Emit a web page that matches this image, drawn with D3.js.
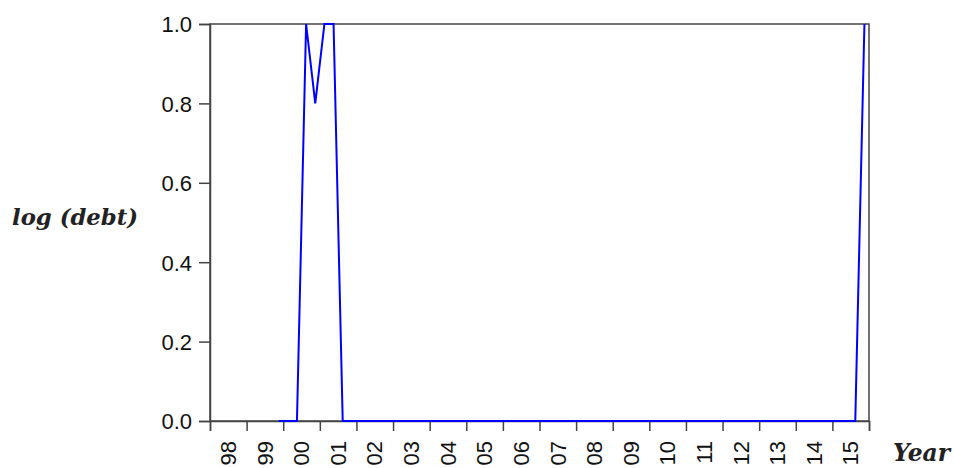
<!DOCTYPE html>
<html lang="en">
<head>
  <meta charset="UTF-8">
  <title>log (debt)</title>
  <script src="https://d3js.org/d3.v7.min.js"></script>
  <style>
    body { margin: 0; background: #fff; }
    .tick text { font-family: "Liberation Sans", Arial, sans-serif; font-size: 22px; fill: #111; }
    .axis-title { font-family: "DejaVu Serif", serif; font-weight: bold; font-style: italic; fill: #222; }
  </style>
</head>
<body>
  <svg id="chart" width="954" height="468"></svg>
  <script>
    // year tick labels (two-digit)
    const yearLabels = ['98', '99', '00', '01', '02', '03', '04', '05', '06',
                        '07', '08', '09', '10', '11', '12', '13', '14', '15'];
    const startYear = 1998;
    // quarterly values, one row per year (Q1..Q4); null = no observation
    const debt = [
      null, null, null, null,   // 1998
      null, null, null, 0,      // 1999
      0, 0, 1, 0.8,             // 2000
      1, 1, 0, 0,               // 2001
      0, 0, 0, 0,               // 2002
      0, 0, 0, 0,               // 2003
      0, 0, 0, 0,               // 2004
      0, 0, 0, 0,               // 2005
      0, 0, 0, 0,               // 2006
      0, 0, 0, 0,               // 2007
      0, 0, 0, 0,               // 2008
      0, 0, 0, 0,               // 2009
      0, 0, 0, 0,               // 2010
      0, 0, 0, 0,               // 2011
      0, 0, 0, 0,               // 2012
      0, 0, 0, 0,               // 2013
      0, 0, 0, 0,               // 2014
      0, 0, 0, 1                // 2015
    ];
    const yTicks = [0, 0.2, 0.4, 0.6, 0.8, 1.0];

    const svg = d3.select('#chart');
    const margin = { left: 210, right: 85, top: 24, bottom: 47 };
    const width = 954, height = 468;

    const x = d3.scaleLinear()
      .domain([startYear, startYear + yearLabels.length])
      .range([margin.left, width - margin.right]);
    const y = d3.scaleLinear()
      .domain([0, 1])
      .range([height - margin.bottom, margin.top]);

    const frameColor = '#444';

    // frame (top and right)
    svg.append('rect')
      .attr('x', x.range()[0]).attr('y', y.range()[1])
      .attr('width', x.range()[1] - x.range()[0])
      .attr('height', y.range()[0] - y.range()[1])
      .attr('fill', 'none').attr('stroke', frameColor).attr('stroke-width', 1.5);

    // y axis
    const yAxis = svg.append('g')
      .attr('transform', `translate(${margin.left},0)`)
      .call(d3.axisLeft(y).tickValues(yTicks).tickFormat(d3.format('.1f')).tickSize(11).tickPadding(7));
    yAxis.select('.domain').attr('stroke', frameColor).attr('stroke-width', 1.5);
    yAxis.selectAll('.tick line').attr('stroke', frameColor).attr('stroke-width', 1.5);
    yAxis.selectAll('.tick text').attr('dy', '0.36em');

    // x axis: ticks at year boundaries, labels centred in each year
    const boundaries = d3.range(startYear, startYear + yearLabels.length + 1);
    const xAxis = svg.append('g')
      .attr('transform', `translate(0,${height - margin.bottom})`)
      .call(d3.axisBottom(x).tickValues(boundaries).tickFormat('').tickSize(10));
    xAxis.select('.domain').attr('stroke', frameColor).attr('stroke-width', 1.5);
    xAxis.selectAll('.tick line').attr('stroke', frameColor).attr('stroke-width', 1.5);

    svg.append('g')
      .selectAll('text')
      .data(yearLabels)
      .enter()
      .append('text')
      .style('font-family', '"Liberation Sans", Arial, sans-serif')
      .style('font-size', '22px')
      .attr('fill', '#111')
      .attr('text-anchor', 'end')
      .attr('dy', '0.35em')
      .attr('transform', (d, i) => `translate(${x(startYear + i + 0.5)},${height - margin.bottom + 20}) rotate(-90)`)
      .text((d) => d);

    // line, quarterly points at quarter midpoints
    const line = d3.line()
      .defined((d) => d !== null)
      .x((d, i) => x(startYear + (i + 0.5) / 4))
      .y((d) => y(d));

    svg.append('path')
      .datum(debt)
      .attr('fill', 'none')
      .attr('stroke', '#0000ff')
      .attr('stroke-width', 2)
      .attr('stroke-linejoin', 'miter')
      .attr('d', line);

    // titles
    svg.append('text')
      .attr('class', 'axis-title')
      .attr('x', 12).attr('y', 225)
      .style('font-size', '23px')
      .attr('textLength', 126)
      .attr('lengthAdjust', 'spacingAndGlyphs')
      .text('log (debt)');

    svg.append('text')
      .attr('class', 'axis-title')
      .attr('x', 893).attr('y', 461)
      .style('font-size', '24px')
      .attr('textLength', 57)
      .attr('lengthAdjust', 'spacingAndGlyphs')
      .text('Year');
  </script>
</body>
</html>
